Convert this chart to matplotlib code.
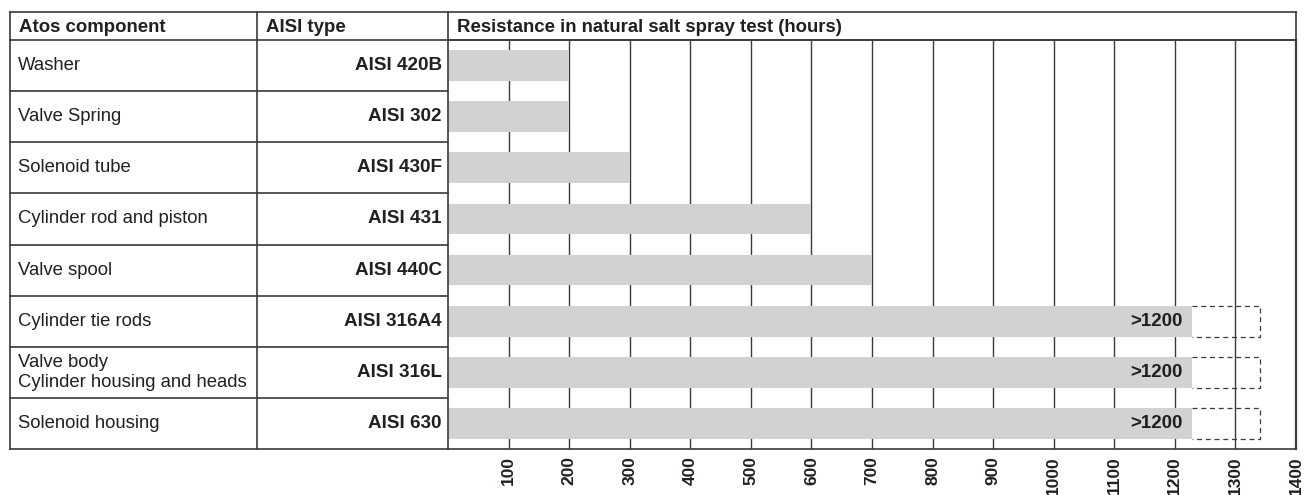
"""
Salt spray resistance table - Atos stainless steel components
Table on the left, horizontal bar chart of test hours on the right.
"""

import matplotlib.pyplot as plt
from matplotlib.lines import Line2D
from matplotlib.transforms import blended_transform_factory

# === DATA ===
components = ['Washer', 'Valve Spring', 'Solenoid tube', 'Cylinder rod and piston',
              'Valve spool', 'Cylinder tie rods',
              'Valve body\nCylinder housing and heads', 'Solenoid housing']
aisi_types = ['AISI 420B', 'AISI 302', 'AISI 430F', 'AISI 431',
              'AISI 440C', 'AISI 316A4', 'AISI 316L', 'AISI 630']
hours = [200, 200, 300, 600, 700, 1228, 1228, 1228]
open_end = [None, None, None, None, None, 1340, 1340, 1340]   # dashed "more than" box
bar_labels = ['', '', '', '', '', '>1200', '>1200', '>1200']
hour_ticks = [100, 200, 300, 400, 500, 600, 700, 800, 900, 1000, 1100, 1200, 1300, 1400]
headers = ['Atos component', 'AISI type', 'Resistance in natural salt spray test (hours)']

# === STYLE ===
plt.rcParams['font.family'] = ['Liberation Sans', 'DejaVu Sans']
TEXT = '#231f20'
LINE = '#3a3a3a'
BAR = '#d1d2d4'

W, H = 1304, 495
fx = lambda x: x / W
fy = lambda y: 1 - y / H

# table geometry (pixels)
X_LEFT, X_COL2, X_CHART, X_RIGHT = 9.5, 256.5, 448, 1296
Y_TOP, Y_HEAD, Y_BOTTOM = 12, 40, 449

fig = plt.figure(figsize=(W / 100, H / 100), dpi=100)
ax = fig.add_axes([fx(X_CHART), fy(Y_BOTTOM), fx(X_RIGHT - X_CHART), (Y_BOTTOM - Y_HEAD) / H])

n = len(components)
rows = [i + 0.5 for i in range(n)]
ax.set_xlim(0, 1400)
ax.set_ylim(n, 0)

# vertical grid lines
ax.set_xticks(hour_ticks)
ax.set_yticks([])
ax.grid(axis='x', color=LINE, linewidth=1.0, zorder=0)
ax.set_axisbelow(True)
ax.tick_params(axis='x', length=0, pad=5)
for lbl in ax.get_xticklabels():
    lbl.set_rotation(90)
    lbl.set_fontweight('bold')
    lbl.set_fontsize(12.5)
    lbl.set_color(TEXT)

# bars
ax.barh(rows, hours, height=0.6, color=BAR, zorder=2)

for y, h, end, lab in zip(rows, hours, open_end, bar_labels):
    if end is not None:
        ax.plot([h, end, end, h], [y - 0.3, y - 0.3, y + 0.3, y + 0.3],
                color=LINE, linewidth=0.9, linestyle=(0, (4, 3)), zorder=3)
    if lab:
        ax.text(h - 15, y, lab, ha='right', va='center', fontsize=13.5,
                fontweight='bold', color=TEXT, zorder=4)

for side in ['left', 'right', 'bottom', 'top']:
    ax.spines[side].set_color(LINE)
    ax.spines[side].set_linewidth(1.2)
ax.spines['right'].set_linewidth(1.6)

# === TABLE PART ===
def fig_line(xs, ys, **kw):
    fig.add_artist(Line2D([fx(x) for x in xs], [fy(y) for y in ys],
                          color=LINE, linewidth=1.2, **kw))

fig_line([X_LEFT, X_RIGHT], [Y_TOP, Y_TOP])
fig_line([X_LEFT, X_RIGHT], [Y_HEAD, Y_HEAD])
fig_line([X_LEFT, X_CHART], [Y_BOTTOM, Y_BOTTOM])
fig_line([X_LEFT, X_LEFT], [Y_TOP, Y_BOTTOM])
fig_line([X_COL2, X_COL2], [Y_TOP, Y_BOTTOM])
fig_line([X_CHART, X_CHART], [Y_TOP, Y_HEAD])
fig_line([X_RIGHT, X_RIGHT], [Y_TOP, Y_HEAD])

# row separators aligned with the bar rows
blend = blended_transform_factory(fig.transFigure, ax.transData)
for i in range(1, n):
    fig.add_artist(Line2D([fx(X_LEFT), fx(X_CHART)], [i, i], transform=blend,
                          color=LINE, linewidth=1.2))

# header texts
for x, txt in zip([19, 265.5, 457], headers):
    fig.text(fx(x), fy((Y_TOP + Y_HEAD) / 2 + 1), txt, ha='left', va='center',
             fontsize=13.4, fontweight='bold', color=TEXT)

# row texts
for y, comp, aisi in zip(rows, components, aisi_types):
    ax.text(fx(18), y, comp, transform=blend, ha='left', va='center',
            fontsize=13.3, color=TEXT, linespacing=1.2)
    ax.text(fx(442), y, aisi, transform=blend, ha='right', va='center',
            fontsize=13.6, fontweight='bold', color=TEXT)

fig.savefig('out.png', dpi=100)
